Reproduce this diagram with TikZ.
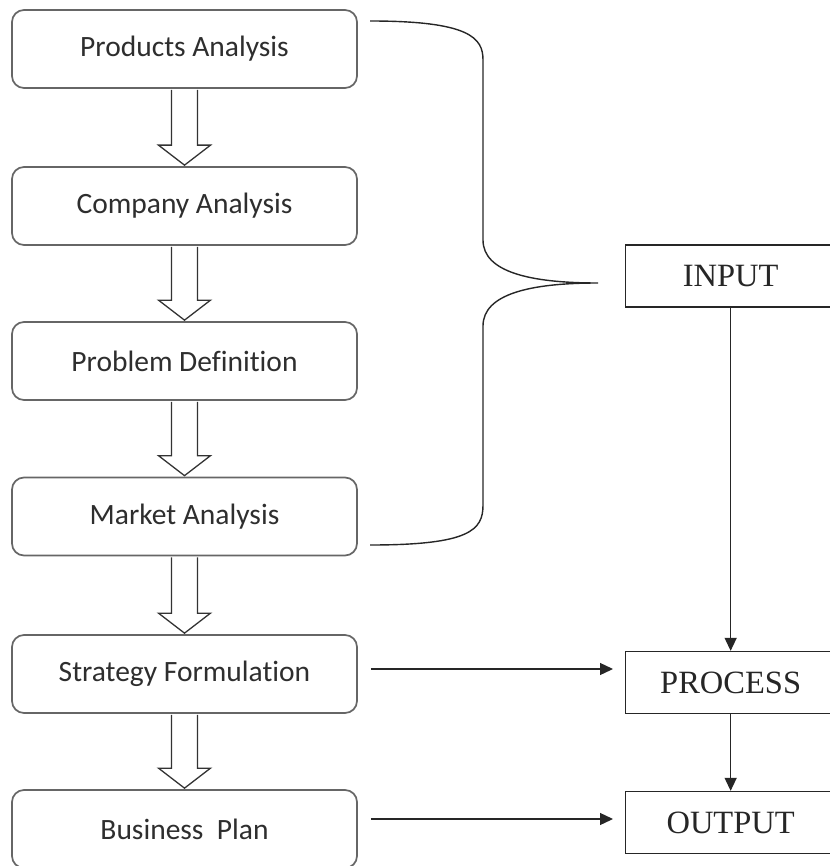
\documentclass[tikz,border=0pt]{standalone}
\usepackage{fontspec}
\setmainfont{Liberation Serif}
\newfontfamily\calibri[Ligatures={NoCommon}]{Carlito}
\usetikzlibrary{calc,arrows.meta}
\tikzset{
  stage/.style={draw=black!60, line width=1.7pt, rounded corners=12pt, fill=white,
    minimum width=345pt, minimum height=78pt, inner sep=0pt,
    font=\calibri\fontsize{29.5}{32}\selectfont, text=black!82},
  phase/.style={draw=black!85, line width=1.3pt, fill=white,
    minimum width=210pt, minimum height=62pt, inner sep=0pt,
    font=\fontsize{32.5}{34}\selectfont, text=black!85},
  blockarrow/.style={draw=black!80, line width=1.3pt, line join=miter},
  link/.style={->, line width=1.3pt, black!85},
}
\begin{document}
\begin{tikzpicture}[x=1pt, y=-1pt, >={Triangle[length=13pt,width=12pt]}]
    \useasboundingbox (0,0) rectangle (829,866);

    \node[stage] (A) at (184.5,49)    {Products Analysis};
    \node[stage] (B) at (184.5,206)   {Company Analysis};
    \node[stage] (C) at (184.5,361)   {Problem Definition};
    \node[stage] (D) at (184.5,516.5) {Market Analysis};
    \node[stage] (E) at (184.5,674)   {Strategy Formulation};
    \node[stage] (F) at (184.5,829)   {Business\ \ Plan};

    \foreach \u/\v in {A/B,B/C,C/D,D/E,E/F}
        \draw[blockarrow] ($(\u.south)+(-13,1)$) -- ($(\v.north)+(-13,-21)$)
            -- ($(\v.north)+(-26,-21)$) -- ($(\v.north)+(0,-1)$)
            -- ($(\v.north)+(26,-21)$) -- ($(\v.north)+(13,-21)$)
            -- ($(\u.south)+(13,1)$);

    \coordinate (btop) at (370,21);
    \coordinate (btip) at (598,283);
    \coordinate (bbot) at (370,545);
    \draw[line width=1.4pt, black!85] (btop) .. controls (470,21) and (483,38) .. (483,60)
        -- (483,240) .. controls (483,272) and (530,283) .. (btip)
        .. controls (530,283) and (483,294) .. (483,326)
        -- (483,505) .. controls (483,530) and (470,545) .. (bbot);

    \node[phase, anchor=west] (I) at (625,276)   {INPUT};
    \node[phase, anchor=west] (P) at (625,682.5) {PROCESS};
    \node[phase, anchor=west] (O) at (625,822.5) {OUTPUT};

    \draw[link] (I.south) -- (P.north);
    \draw[link] (P.south) -- (O.north);
    \draw[link, shorten <=13pt, shorten >=12pt] ($(E.east)+(0,-5)$) -- ($(E.east -| P.west)+(0,-5)$);
    \draw[link, shorten <=13pt, shorten >=12pt] ($(F.east)+(0,-10)$) -- ($(F.east -| O.west)+(0,-10)$);
\end{tikzpicture}
\end{document}
